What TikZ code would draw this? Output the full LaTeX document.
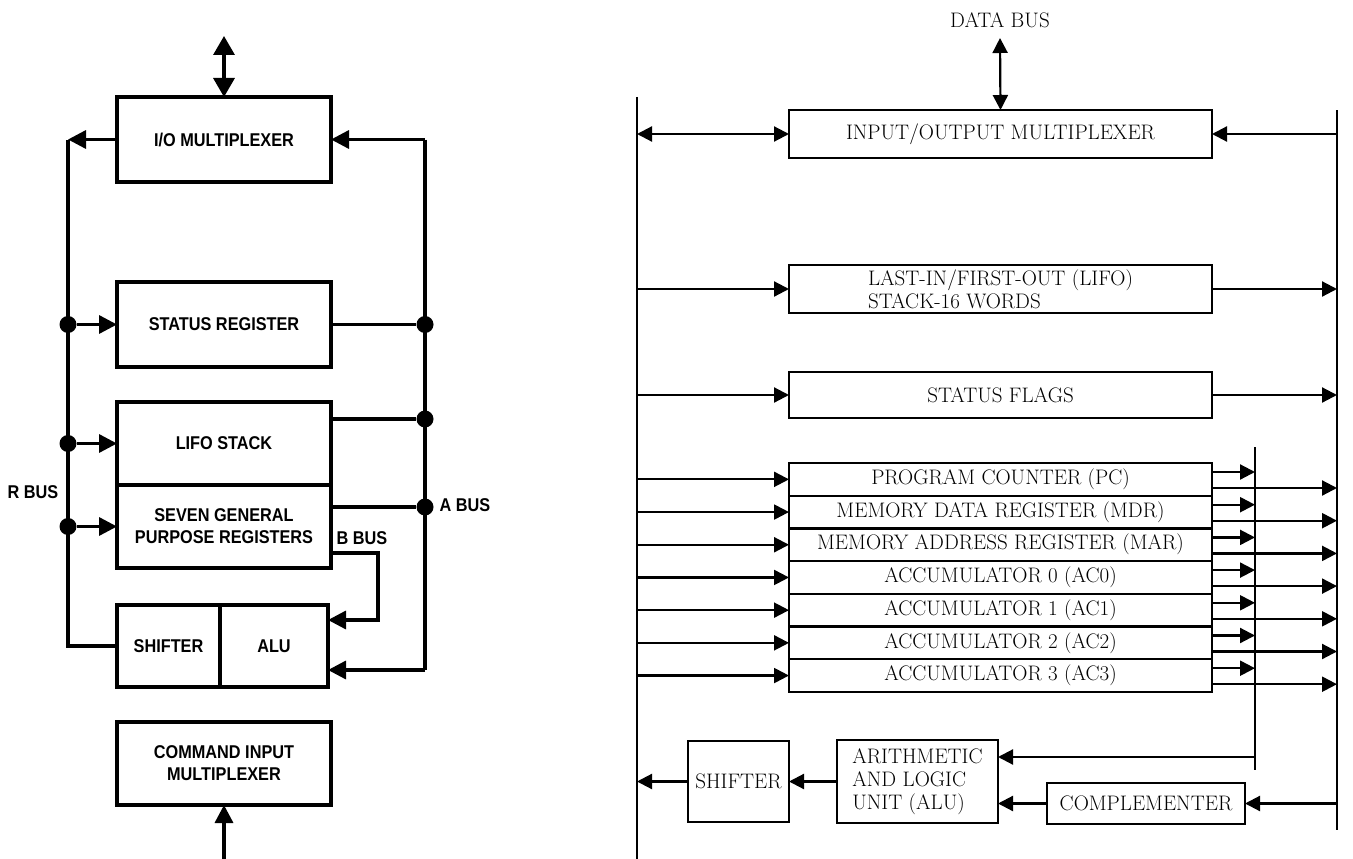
\documentclass[tikz,border=0pt]{standalone}
\usepackage{fontspec}
\usepackage{tikz}
\usetikzlibrary{arrows.meta, positioning}
\newfontfamily\lfont[FakeStretch=0.88]{Liberation Sans}
\tikzset{
  unit/.style={
    rectangle, draw, line width=3.6pt,
    inner sep=0pt, outer sep=0pt, align=center,
    font=\lfont\bfseries\fontsize{18.5}{22}\selectfont,
  },
  busline/.style={line width=3.4pt},
  busarrow/.style={busline, -{Triangle[length=18pt, width=18pt]}},
  busdbl/.style={busline, {Triangle[length=19pt, width=21pt]}-{Triangle[length=19pt, width=21pt]}},
  tap/.style={circle, fill, inner sep=0pt, minimum size=17pt},
  buslabel/.style={font=\lfont\bfseries\fontsize{18.5}{19}\selectfont},
  reg/.style={
    rectangle, draw, line width=2.3pt,
    inner sep=0pt, outer sep=0pt, align=center,
    font=\fontsize{21}{23}\selectfont,
  },
  rail/.style={line width=2.8pt},
  wire/.style={line width=2.2pt},
  wirearrow/.style={wire, -{Triangle[length=15pt, width=15pt]}},
  wiredbl/.style={wire, {Triangle[length=15pt, width=15pt]}-{Triangle[length=15pt, width=15pt]}},
  caption/.style={font=\fontsize{21}{23}\selectfont},
}

\begin{document}
\begin{tikzpicture}[x=1pt, y=-1pt]
  \useasboundingbox[fill=white] (0,0) rectangle (1353,859);

  % Left diagram — units on the R, A and B buses
  \node[unit, minimum width=214pt, minimum height=85pt] (iomux) at (224,139.5) {I/O MULTIPLEXER};
  \node[unit, minimum width=214pt, minimum height=85pt, below=100pt of iomux] (status) {STATUS REGISTER};
  \node[unit, minimum width=214pt, minimum height=83pt, below=35pt of status] (lifo) {LIFO STACK};
  \node[unit, minimum width=214pt, minimum height=83pt, below=0pt of lifo] (gpr) {SEVEN GENERAL\\PURPOSE REGISTERS};
  \node[unit, minimum width=103pt, minimum height=82pt, below=37pt of gpr.south west, anchor=north west] (shifter) {SHIFTER};
  \node[unit, minimum width=108pt, minimum height=82pt, right=0pt of shifter] (alu) {ALU};
  \node[unit, minimum width=214pt, minimum height=83pt, below=35pt of shifter.south west, anchor=north west] (cmd) {COMMAND INPUT\\MULTIPLEXER};

  % Bus corners and taps
  \coordinate (rtop) at (68,139.5);
  \coordinate (rbot) at (rtop |- shifter.west);
  \coordinate (atop) at (425,139.5);
  \coordinate (abot) at (425,670);
  \coordinate (b1) at (378,553);
  \coordinate (b2) at (378,620);
  \coordinate (cpu) at (224,36);
  \coordinate (cmdin) at ([yshift=-56pt]cmd.south);
  \node[tap] (r1) at (rtop |- status.west) {};
  \node[tap] (r2) at (rtop |- lifo.west) {};
  \node[tap] (r3) at (rtop |- gpr.west) {};
  \node[tap] (a1) at (atop |- status.east) {};
  \node[tap] (a2) at (425,419) {};
  \node[tap] (a3) at (425,507) {};

  % R bus
  \draw[busarrow] (iomux.west) -- (rtop);
  \draw[busline] (rtop) -- (rbot) -- (shifter.west);
  \foreach \from/\to in {r1/status, r2/lifo, r3/gpr}
    \draw[busarrow] (\from) -- (\to.west);

  % A bus
  \draw[busarrow] (atop) -- (iomux.east);
  \draw[busline] (atop) -- (abot);
  \draw[busarrow] (abot) -- (abot -| alu.east);
  \draw[busline] (status.east) -- (a1);
  \draw[busline] (a2 -| lifo.east) -- (a2);
  \draw[busline] (a3 -| gpr.east) -- (a3);

  % B bus
  \draw[busarrow] (b1 -| gpr.east) -- (b1) -- (b2) -- (b2 -| alu.east);

  % In and out
  \draw[busdbl] (cpu) -- (iomux.north);
  \draw[busarrow] (cmdin) -- (cmd.south);

  % Bus labels
  \node[buslabel] (rbus) at (33,492) {R BUS};
  \node[buslabel] (abus) at (465,505) {A BUS};
  \node[buslabel] (bbus) at (362,538) {B BUS};

  % Right diagram — registers between two rails
  \coordinate (lrtop) at (637,97);
  \coordinate (lrbot) at (637,859);
  \coordinate (rrtop) at (1337,110);
  \coordinate (rrbot) at (1337,830);
  \coordinate (irtop) at (1255,447);
  \coordinate (irbot) at (1255,770);
  \draw[rail] (lrtop) -- (lrbot);
  \draw[rail] (rrtop) -- (rrbot);
  \draw[rail] (irtop) -- (irbot);

  \node[caption] (dbus) at (1000,20) {DATA BUS};
  \coordinate (dtop) at (1000,38);
  \node[reg, minimum width=423pt, minimum height=48pt] (iomux2) at (1000.5,134) {INPUT/OUTPUT MULTIPLEXER};
  \node[reg, minimum width=423pt, minimum height=48pt, below=107pt of iomux2, align=left] (stack2) {LAST-IN/FIRST-OUT (LIFO)\\STACK-16 WORDS};
  \node[reg, minimum width=423pt, minimum height=46pt, below=59pt of stack2] (flags) {STATUS FLAGS};

  \draw[wiredbl] (dtop) -- (iomux2.north);
  \draw[wiredbl] (iomux2.west -| lrtop) -- (iomux2.west);
  \draw[wirearrow] (iomux2.east -| rrtop) -- (iomux2.east);
  \foreach \u in {stack2, flags} {
    \draw[wirearrow] (\u.west -| lrtop) -- (\u.west);
    \draw[wirearrow] (\u.east) -- (\u.east -| rrtop);
  }

  % Register file, one row each
  \foreach \i/\txt in {0/PROGRAM COUNTER (PC), 1/MEMORY DATA REGISTER (MDR),
      2/MEMORY ADDRESS REGISTER (MAR), 3/ACCUMULATOR 0 (AC0),
      4/ACCUMULATOR 1 (AC1), 5/ACCUMULATOR 2 (AC2), 6/ACCUMULATOR 3 (AC3)} {
    \pgfmathsetmacro\yc{479.35+32.7*\i}
    \node[reg, minimum width=423pt, minimum height=32.7pt] (reg\i) at (1000.5,\yc) {\txt};
    \coordinate (up\i) at ([yshift=7.35pt]reg\i.east);
    \coordinate (lo\i) at ([yshift=-8.65pt]reg\i.east);
    \draw[wirearrow] (reg\i.west -| lrtop) -- (reg\i.west);
    \draw[wirearrow] (up\i) -- (up\i -| irtop);
    \draw[wirearrow] (lo\i) -- (lo\i -| rrtop);
  }

  % ALU path
  \node[reg, minimum width=161pt, minimum height=83pt, align=left] (alu2) at (917.5,781.5) {ARITHMETIC\\AND LOGIC\\UNIT (ALU)};
  \node[reg, minimum width=101pt, minimum height=81pt, left=48pt of alu2] (shifter2) {SHIFTER};
  \node[reg, minimum width=198pt, minimum height=41pt] (compl) at (1146,803.5) {COMPLEMENTER};
  \coordinate (ialu) at (1255,757);

  \draw[wirearrow] (ialu) -- (ialu -| alu2.east);
  \draw[wirearrow] (alu2.west) -- (alu2.west -| shifter2.east);
  \draw[wirearrow] (shifter2.west) -- (shifter2.west -| lrtop);
  \draw[wirearrow] (compl.east -| rrtop) -- (compl.east);
  \draw[wirearrow] (compl.west) -- (compl.west -| alu2.east);

\end{tikzpicture}
\end{document}
